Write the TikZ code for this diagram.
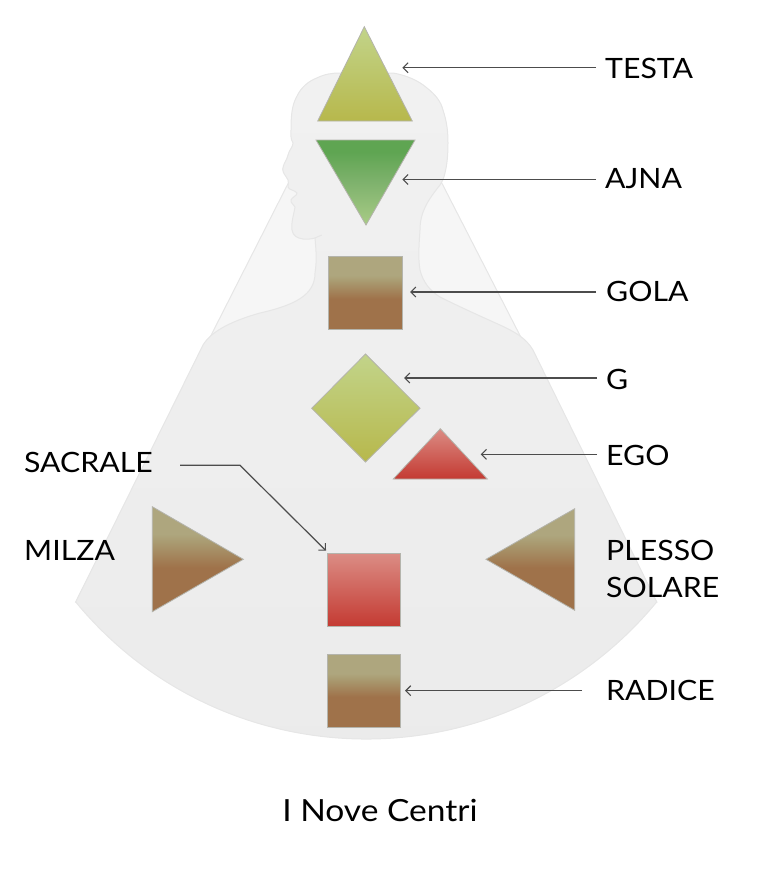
\documentclass[tikz,border=0pt]{standalone}
\usepackage{fontspec}
\setmainfont{Lato}
\newfontfamily\labfont[FakeStretch=1.08]{Lato}
\newfontfamily\titlefont[FakeStretch=1.1]{Lato}
\usetikzlibrary{arrows.meta}
\definecolor{bodyedge}{HTML}{E6E6E6}
\definecolor{fanfill}{HTML}{F6F6F6}
\definecolor{bodytop}{HTML}{F1F1F1}
\definecolor{bodybot}{HTML}{EBEBEB}
\definecolor{shapeedge}{HTML}{B4B4AC}
\definecolor{connline}{HTML}{4C4C4C}
\definecolor{brw1}{HTML}{AEA67E}
\definecolor{brwm}{HTML}{A99A70}
\definecolor{brw2}{HTML}{9F724A}
\definecolor{olv1}{HTML}{C2D48A}
\definecolor{olv2}{HTML}{B7B84C}
\definecolor{grn1}{HTML}{5FA552}
\definecolor{grn2}{HTML}{7FB26D}
\definecolor{grn3}{HTML}{A9CC86}
\definecolor{red1}{HTML}{DB8C84}
\definecolor{red2}{HTML}{C43A32}
\pgfdeclareverticalshading{brownshade}{100bp}{color(0bp)=(brw2); color(46bp)=(brw2); color(58bp)=(brwm); color(62bp)=(brw1); color(100bp)=(brw1)}
\pgfdeclareverticalshading{oliveshade}{100bp}{color(0bp)=(olv2); color(25bp)=(olv2); color(75bp)=(olv1); color(100bp)=(olv1)}
\pgfdeclareverticalshading{greenshade}{100bp}{color(0bp)=(grn3); color(25bp)=(grn3); color(50bp)=(grn2); color(68bp)=(grn1); color(100bp)=(grn1)}
\pgfdeclareverticalshading{redshade}{100bp}{color(0bp)=(red2); color(25bp)=(red2); color(75bp)=(red1); color(100bp)=(red1)}
\tikzset{
  centre/.style={draw=shapeedge,line width=0.8pt,line join=miter},
  lab/.style={inner sep=0pt,anchor=base west,font=\labfont\fontsize{28}{30}\selectfont,text=black},
  conn/.style={draw=connline,line width=1.2pt,-{Straight Barb[length=5pt,width=10pt,line width=1.1pt]}}
}
\begin{document}
\begin{tikzpicture}[x=1pt,y=-1pt]
\useasboundingbox (0,0) rectangle (760,891);
% fan
\path[draw=bodyedge,fill=fanfill,line width=1pt] (75.7,602) -- (300,160) -- (430,160) -- (656.7,602) -- cycle;
% body
\path[draw=bodyedge,line width=1pt,top color=bodytop,bottom color=bodybot]
  (75.7,602) -- (203,345)
  .. controls (212,330) and (235,320) .. (260,313)
  .. controls (295,305) and (315,295) .. (315,273)
  .. controls (317,260) and (316,250) .. (315,238)
  .. controls (311,239) and (307,239.5) .. (303,239)
  .. controls (297,238) and (293,236) .. (292,230)
  .. controls (291,222) and (294,214) .. (295,207)
  .. controls (294,204) and (290,203) .. (291,200)
  .. controls (292,197) and (297,196) .. (297,193)
  .. controls (295,190) and (288.5,190) .. (288,187)
  .. controls (288,184) and (289,182) .. (288,180)
  .. controls (286,176) and (282.5,173) .. (282.7,169)
  .. controls (283,164) and (287,160) .. (288,155)
  .. controls (289,150) and (293,147) .. (293,143)
  .. controls (290,138) and (291,134) .. (291,130)
  .. controls (291,115) and (292,105) .. (296.7,96.7)
  .. controls (301,87) and (309,81) .. (316.7,78)
  .. controls (325,74) and (332,73) .. (340,73)
  -- (393,73)
  .. controls (405,75) and (418,80) .. (427,88)
  .. controls (436,95) and (441,102) .. (443,110)
  .. controls (447,122) and (448,132) .. (448,143)
  .. controls (448,155) and (447,165) .. (445,173)
  .. controls (444,178) and (442,182) .. (440,185)
  .. controls (428,200) and (420,212) .. (420,230)
  .. controls (419,245) and (418,258) .. (420,270)
  .. controls (423,282) and (430,291) .. (440,297)
  .. controls (460,307) and (480,316) .. (500,325)
  .. controls (515,332) and (526,338) .. (533,350)
  -- (656.7,602)
  .. controls (506,784.7) and (226.3,784.7) .. cycle;
\path[draw=bodyedge,line width=1pt] (315,238) -- (321.7,235);
% centres
\path[centre,shading=oliveshade] (364.3,26.7) -- (412.3,121) -- (317.7,121) -- cycle;
\path[centre,shading=greenshade] (316,140) -- (415,140) -- (366,225) -- cycle;
\path[centre,shading=brownshade] (328.7,256.3) rectangle (402.7,329.7);
\path[centre,shading=oliveshade] (365.5,354) -- (420,408.3) -- (365.5,462) -- (311.7,408.3) -- cycle;
\path[centre,shading=redshade] (440.3,428.7) -- (487.3,479) -- (393.3,479) -- cycle;
\path[centre,shading=brownshade] (152.3,506.7) -- (243.3,559.3) -- (152.3,611.7) -- cycle;
\path[centre,shading=brownshade] (574.7,508.7) -- (574.7,610.3) -- (486,559.3) -- cycle;
\path[centre,shading=redshade] (327.3,553.7) rectangle (400.4,626.7);
\path[centre,shading=brownshade] (327.3,654.5) rectangle (400.4,727.5);
% labels
\node[lab] (lTesta) at (605,78) {TESTA};
\node[lab] (lAjna) at (605,188) {AJNA};
\node[lab] (lGola) at (606,301) {GOLA};
\node[lab] (lG) at (606,389) {G};
\node[lab] (lEgo) at (606,465) {EGO};
\node[lab] (lPlesso) at (606,560) {PLESSO};
\node[lab] (lSolare) at (606,597) {SOLARE};
\node[lab] (lRadice) at (606,700) {RADICE};
\node[lab] (lSacrale) at (24,472) {SACRALE};
\node[lab] (lMilza) at (24,560) {MILZA};
\node[lab,anchor=base,font=\titlefont\fontsize{30.5}{32}\selectfont] (title) at (380,821) {I Nove Centri};
% connector ends
\coordinate (tTesta) at (402.3,67.7);
\coordinate (tAjna) at (402.3,179.5);
\coordinate (tGola) at (410,292);
\coordinate (tG) at (404,378);
\coordinate (tEgo) at (480.7,454.3);
\coordinate (tRadice) at (405,690.7);
\coordinate (tSacrale) at (326,550.7);
\coordinate (sSacrale) at (180,465.3);
\coordinate (bSacrale) at (240,465.3);
\draw[conn,shorten <=9pt] (tTesta -| lTesta.west) -- (tTesta);
\draw[conn,shorten <=9pt] (tAjna -| lAjna.west) -- (tAjna);
\draw[conn,shorten <=10pt] (tGola -| lGola.west) -- (tGola);
\draw[conn,shorten <=9pt] (tG -| lG.west) -- (tG);
\draw[conn,shorten <=9pt] (tEgo -| lEgo.west) -- (tEgo);
\draw[conn,shorten <=24pt] (tRadice -| lRadice.west) -- (tRadice);
\draw[conn] (sSacrale) -- (bSacrale) -- (tSacrale);
\end{tikzpicture}
\end{document}
